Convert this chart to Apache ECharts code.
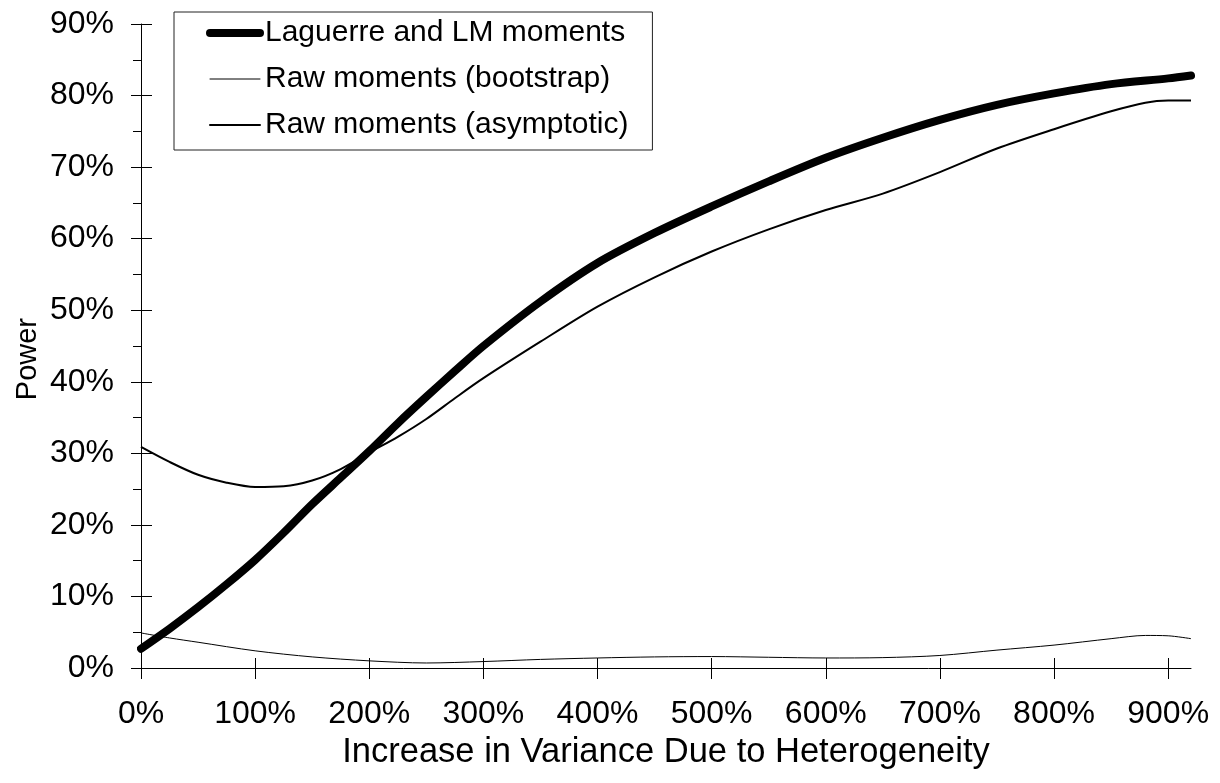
<!DOCTYPE html>
<html>
<head>
<meta charset="utf-8">
<script src="https://cdn.jsdelivr.net/npm/echarts@6/dist/echarts.min.js"></script>
<style>html,body{margin:0;padding:0;background:#fff;}#chart{width:1220px;height:783px;}</style>
</head>
<body>
<div id="chart"></div>
<script>
const seriesNames = ['Laguerre and LM moments', 'Raw moments (bootstrap)', 'Raw moments (asymptotic)'];
const xLag = [0, 25, 50, 75, 100, 125, 150, 175, 200, 225, 250, 275, 300, 350, 400, 450, 500, 550, 600, 650, 700, 750, 800, 850, 900, 920];
const laguerre = [2.7, 5.5, 8.5, 11.7, 15.1, 18.9, 22.9, 26.6, 30.3, 34.2, 37.9, 41.5, 45.0, 51.2, 56.6, 60.8, 64.5, 68.0, 71.3, 74.1, 76.6, 78.7, 80.3, 81.6, 82.4, 82.8];
const xBoot = [0, 25, 50, 100, 150, 200, 250, 300, 350, 400, 450, 500, 550, 600, 650, 700, 750, 800, 850, 880, 900, 920];
const rawBootstrap = [4.9, 4.2, 3.6, 2.4, 1.55, 1.0, 0.7, 0.9, 1.2, 1.4, 1.55, 1.6, 1.5, 1.4, 1.45, 1.75, 2.5, 3.2, 4.1, 4.55, 4.5, 4.1];
const xAsym = [0, 25, 50, 75, 100, 125, 150, 175, 200, 225, 250, 275, 300, 350, 400, 450, 500, 550, 600, 650, 700, 750, 800, 850, 880, 900, 920];
const rawAsymptotic = [30.9, 28.8, 27.0, 25.9, 25.3, 25.4, 26.2, 27.8, 30.1, 32.3, 34.8, 37.7, 40.5, 45.6, 50.5, 54.6, 58.2, 61.3, 64.0, 66.3, 69.3, 72.6, 75.3, 77.8, 79.0, 79.3, 79.3];
const xTicks = [0, 100, 200, 300, 400, 500, 600, 700, 800, 900];
const xTitle = 'Increase in Variance Due to Heterogeneity';
const yTitle = 'Power';

const zip = (xs, ys) => xs.map((x, i) => [x, ys[i]]);
const FONT = '"Liberation Sans", Arial, sans-serif';
const lineWidths = [8, 1, 2];

const chart = echarts.init(document.getElementById('chart'), null, {renderer: 'canvas'});
const baseX = {type: 'value', min: 0, max: 920, gridIndex: 0, position: 'bottom'};
const baseY = {type: 'value', min: 0, max: 90, interval: 10, gridIndex: 0, position: 'left'};
chart.setOption({
  animation: false,
  backgroundColor: '#fff',
  textStyle: {fontFamily: FONT, color: '#000'},
  grid: {left: 141, right: 29, top: 24, bottom: 115, containLabel: false},
  legend: {
    orient: 'vertical', left: 174, top: 12,
    padding: [6, 24, 10, 32],
    itemWidth: 50, itemHeight: 30, itemGap: 16,
    borderColor: '#222', borderWidth: 1, backgroundColor: '#fff',
    textStyle: {fontFamily: FONT, fontSize: 30, color: '#000'},
    data: seriesNames.map((n, i) => ({
      name: n,
      itemStyle: {opacity: 0},
      lineStyle: {width: lineWidths[i], color: '#000', cap: 'round'}
    }))
  },
  xAxis: [
    Object.assign({}, baseX, {
      name: xTitle, nameLocation: 'middle', nameGap: 66,
      nameTextStyle: {fontFamily: FONT, fontSize: 34.5, color: '#000'},
      axisLine: {show: true, lineStyle: {color: '#000', width: 1}},
      axisTick: {show: true, length: 11, customValues: xTicks, lineStyle: {color: '#000'}},
      axisLabel: {show: true, margin: 30, fontSize: 32, fontFamily: FONT, color: '#000', customValues: xTicks, formatter: v => v + '%'},
      splitLine: {show: false}
    }),
    Object.assign({}, baseX, {
      axisLine: {show: false},
      axisTick: {show: true, inside: true, length: 10, customValues: xTicks, lineStyle: {color: '#000'}},
      axisLabel: {show: false},
      splitLine: {show: false}
    })
  ],
  yAxis: [
    Object.assign({}, baseY, {
      axisLine: {show: true, lineStyle: {color: '#000', width: 1}},
      axisTick: {show: true, length: 10, lineStyle: {color: '#000'}},
      minorTick: {show: true, splitNumber: 2, length: 8, lineStyle: {color: '#000'}},
      axisLabel: {show: true, margin: 27, fontSize: 32, fontFamily: FONT, color: '#000', formatter: v => v + '%'},
      splitLine: {show: false}, minorSplitLine: {show: false}
    }),
    Object.assign({}, baseY, {
      axisLine: {show: false},
      axisTick: {show: true, inside: true, length: 11, lineStyle: {color: '#000'}},
      axisLabel: {show: false},
      splitLine: {show: false}
    })
  ],
  graphic: [{
    type: 'text', left: 13, top: 318, rotation: Math.PI / 2,
    style: {text: yTitle, font: '29px ' + FONT, fill: '#000'}
  }],
  series: [
    {name: seriesNames[0], type: 'line', data: zip(xLag, laguerre), smooth: 0.3, showSymbol: false, symbol: 'none',
      lineStyle: {color: '#000', width: lineWidths[0], cap: 'round'}, itemStyle: {color: '#000'}, z: 3},
    {name: seriesNames[1], type: 'line', data: zip(xBoot, rawBootstrap), smooth: 0.3, showSymbol: false, symbol: 'none',
      lineStyle: {color: '#000', width: lineWidths[1]}, itemStyle: {color: '#000'}, z: 2},
    {name: seriesNames[2], type: 'line', data: zip(xAsym, rawAsymptotic), smooth: 0.3, showSymbol: false, symbol: 'none',
      lineStyle: {color: '#000', width: lineWidths[2]}, itemStyle: {color: '#000'}, z: 2}
  ]
});
</script>
</body>
</html>
